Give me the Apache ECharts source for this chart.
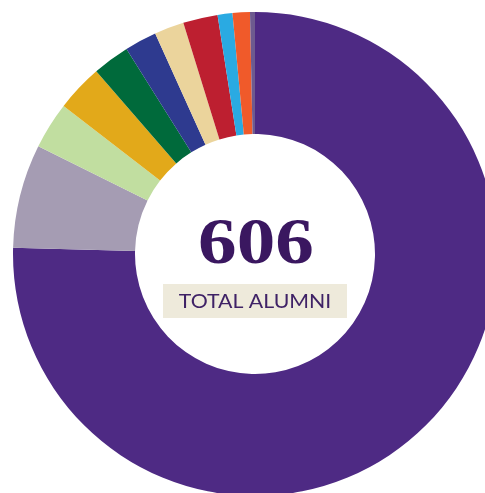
<!DOCTYPE html>
<html>
<head>
<meta charset="utf-8">
<script src="https://cdn.jsdelivr.net/npm/echarts@6/dist/echarts.min.js"></script>
<style>
html,body{margin:0;padding:0;background:#fff;}
#chart{width:485px;height:493px;}
</style>
</head>
<body>
<div id="chart"></div>
<script>
const categories = ['Group 1','Group 2','Group 3','Group 4','Group 5','Group 6','Group 7','Group 8','Group 9','Group 10','Group 11'];
const values = [457, 42, 19, 19, 15, 13, 12, 14, 6, 7, 2];
const colors = ['#4e2a84','#a59cb3','#c1dea0','#e2a91a','#006a3b','#2e3a8f','#ebd49c','#bd1f30','#2aaae2','#f05a2a','#6d5a8f'];
const totalLabel = '606';
const subLabel = 'TOTAL ALUMNI';

const chart = echarts.init(document.getElementById('chart'));
chart.setOption({
  animation: false,
  backgroundColor: '#ffffff',
  series: [{
    type: 'pie',
    center: [255, 254],
    radius: [120, 242],
    startAngle: 90,
    clockwise: true,
    silent: true,
    label: {show: false},
    labelLine: {show: false},
    itemStyle: {borderWidth: 0},
    emphasis: {disabled: true},
    data: categories.map((c, i) => ({name: c, value: values[i], itemStyle: {color: colors[i]}}))
  }],
  graphic: [
    {
      type: 'rect',
      shape: {x: 163, y: 284, width: 184, height: 34},
      style: {fill: '#eeeadb'},
      silent: true
    },
    {
      type: 'text',
      x: 255, y: 302,
      scaleX: 1.15,
      style: {
        text: subLabel,
        font: '18.5px Lato',
        fill: '#3f2266',
        textAlign: 'center',
        textVerticalAlign: 'middle'
      },
      silent: true
    },
    {
      type: 'text',
      x: 256, y: 246,
      scaleX: 1.17,
      style: {
        text: totalLabel,
        font: 'bold 66px "Liberation Serif"',
        fill: '#3a1760',
        textAlign: 'center',
        textVerticalAlign: 'middle'
      },
      silent: true
    }
  ]
});
</script>
</body>
</html>
